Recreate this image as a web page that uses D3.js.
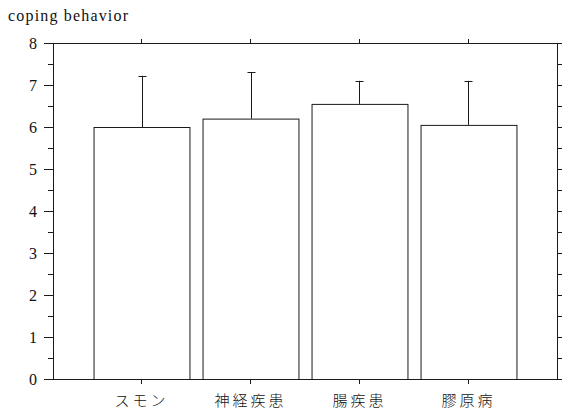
<!DOCTYPE html>
<html>
<head>
  <meta charset="utf-8">
  <script src="https://d3js.org/d3.v7.min.js"></script>
  <style>
    body { margin: 0; background: #fff; }
    svg text { fill: #111; }
  </style>
</head>
<body>
  <div id="chart"></div>

  <script>
    var categories = ["スモン", "神経疾患", "腸疾患", "膠原病"];
    var means = [6.0, 6.2, 6.55, 6.05];
    var sds = [1.22, 1.1, 0.55, 1.05];
    var yTicks = [0, 1, 2, 3, 4, 5, 6, 7, 8];
    var yMinorTicks = [0.5, 1.5, 2.5, 3.5, 4.5, 5.5, 6.5, 7.5];
    var yTitle = "coping behavior";

    var data = categories.map(function(c, i) {
      return {name: c, mean: means[i], sd: sds[i]};
    });

    var width = 563, height = 412;
    var plot = {left: 53, right: 557, top: 43, bottom: 379};

    var svg = d3.select("#chart")
      .append("svg")
      .attr("width", width)
      .attr("height", height);

    var x = d3.scaleBand()
      .domain(categories)
      .range([87, 523])
      .paddingInner(0.12)
      .paddingOuter(0.06);

    var y = d3.scaleLinear()
      .domain([0, 8])
      .range([plot.bottom, plot.top]);

    var serif = "'Liberation Serif', 'Times New Roman', serif";
    var stroke = "#1a1a1a";

    // bars
    svg.selectAll("rect.bar")
      .data(data)
      .enter()
      .append("rect")
      .attr("class", "bar")
      .attr("x", function(d) { return x(d.name) + 0.5; })
      .attr("y", function(d) { return y(d.mean) + 0.5; })
      .attr("width", x.bandwidth())
      .attr("height", function(d) { return y(0) - y(d.mean); })
      .attr("fill", "#fff")
      .attr("stroke", stroke)
      .attr("stroke-width", 1);

    // error bars (upper only)
    var cx = function(d) { return Math.round(x(d.name) + x.bandwidth() / 2) + 0.5; };
    svg.selectAll("line.err")
      .data(data)
      .enter()
      .append("line")
      .attr("x1", cx).attr("x2", cx)
      .attr("y1", function(d) { return y(d.mean); })
      .attr("y2", function(d) { return y(d.mean + d.sd); })
      .attr("stroke", stroke);
    svg.selectAll("line.cap")
      .data(data)
      .enter()
      .append("line")
      .attr("x1", function(d) { return cx(d) - 4; })
      .attr("x2", function(d) { return cx(d) + 4; })
      .attr("y1", function(d) { return Math.round(y(d.mean + d.sd)) + 0.5; })
      .attr("y2", function(d) { return Math.round(y(d.mean + d.sd)) + 0.5; })
      .attr("stroke", stroke);

    function styleAxis(g) {
      g.selectAll("path, line").attr("stroke", stroke);
    }

    // frame lines
    svg.append("line").attr("x1", plot.left).attr("x2", plot.right)
      .attr("y1", plot.top + 0.5).attr("y2", plot.top + 0.5).attr("stroke", stroke);
    svg.append("line").attr("x1", plot.left).attr("x2", plot.right)
      .attr("y1", plot.bottom + 0.5).attr("y2", plot.bottom + 0.5).attr("stroke", stroke);

    // left axis
    svg.append("g")
      .attr("transform", "translate(" + plot.left + ",0)")
      .call(d3.axisLeft(y).tickValues(yTicks).tickSize(9).tickSizeOuter(0).tickPadding(7).tickFormat(d3.format("d")))
      .call(styleAxis)
      .call(function(g) {
        g.attr("font-family", serif).attr("font-size", 16);
        g.selectAll("text").style("font-family", serif).style("font-size", "16px");
      });
    svg.append("g")
      .attr("transform", "translate(" + plot.left + ",0)")
      .call(d3.axisLeft(y).tickValues(yMinorTicks).tickSize(5).tickSizeOuter(0).tickFormat(""))
      .call(styleAxis)
      .call(function(g) { g.select(".domain").remove(); });

    // right axis
    svg.append("g")
      .attr("transform", "translate(" + plot.right + ",0)")
      .call(d3.axisRight(y).tickValues(yTicks.concat(yMinorTicks)).tickSize(5).tickSizeOuter(0).tickFormat(""))
      .call(styleAxis);

    // top axis
    svg.append("g")
      .attr("transform", "translate(0," + plot.top + ")")
      .call(d3.axisTop(x).tickSize(4).tickSizeOuter(0).tickFormat(""))
      .call(styleAxis)
      .call(function(g) { g.select(".domain").remove(); });

    // bottom axis
    svg.append("g")
      .attr("transform", "translate(0," + plot.bottom + ")")
      .call(d3.axisBottom(x).tickSize(5).tickSizeOuter(0).tickPadding(11))
      .call(styleAxis)
      .call(function(g) {
        g.select(".domain").remove();
        g.selectAll("text")
          .attr("font-family", "'Noto Sans CJK JP', sans-serif")
          .attr("font-size", 15)
          .attr("font-weight", 300)
          .style("letter-spacing", "3px");
      });

    // y title
    svg.append("text")
      .attr("x", 8)
      .attr("y", 21)
      .style("font-family", serif)
      .style("font-size", "16px")
      .attr("textLength", 120)
      .attr("lengthAdjust", "spacing")
      .text(yTitle);
  </script>
</body>
</html>
